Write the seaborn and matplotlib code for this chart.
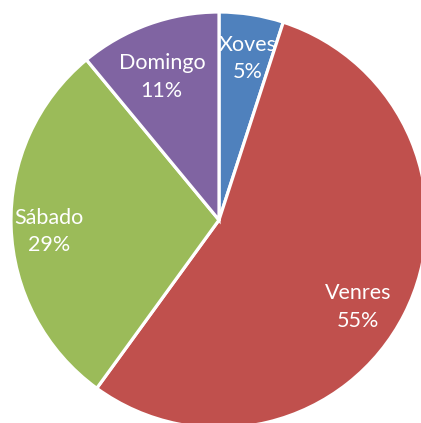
import matplotlib
matplotlib.use('Agg')
import matplotlib.pyplot as plt
import seaborn as sns
import numpy as np

# -----
# Data
# -----
days = ['Xoves', 'Venres', 'Sábado', 'Domingo']
share = [5, 55, 29, 11]
colours = ['#4F81BD', '#C0504D', '#9BBB59', '#8064A2']

# -----
# Plot
# -----
sns.set_style('white')
plt.rcParams['font.family'] = ['Lato', 'DejaVu Sans']

fig = plt.figure(figsize=(4.21, 4.23), dpi=100)
ax = fig.add_axes([0, 0, 1, 1])

labels_iter = iter(days)
wedges, texts, autotexts = ax.pie(
    share, colors=colours, startangle=90, counterclock=False,
    autopct=lambda p: '%s\n%.0f%%' % (next(labels_iter), p),
    pctdistance=0.79, radius=1,
    wedgeprops=dict(edgecolor='white', linewidth=2.3),
    textprops=dict(color='white', fontsize=15.5, linespacing=1.45),
)

# nudge labels the way the original spreadsheet placed them
ang_shift = [-1, -5, 2, 2]   # degrees (ccw positive)
dist = [0.79, 0.79, 0.82, 0.74]
for w, t, da, d in zip(wedges, autotexts, ang_shift, dist):
    mid = np.deg2rad((w.theta1 + w.theta2) / 2 + da)
    t.set_position((d * np.cos(mid), d * np.sin(mid)))

# pie centre sits at (219, 220) px with a radius of ~208 px, clipped right/bottom
cx, cy, r_px = 219.0, 220.0, 208.0
ax.set_xlim(-cx / r_px, (421 - cx) / r_px)
ax.set_ylim(-(423 - cy) / r_px, cy / r_px)
ax.set_aspect('equal')
ax.axis('off')

fig.savefig('out.png', dpi=100)
